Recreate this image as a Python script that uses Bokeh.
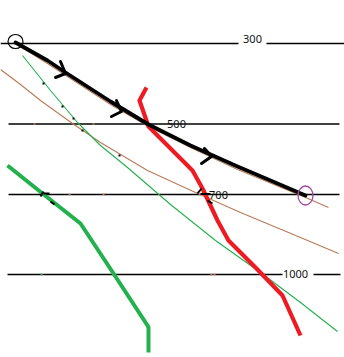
from bokeh.plotting import figure
from bokeh.models import Range1d
from bokeh.embed import file_html
from bokeh.resources import INLINE
from bokeh.core.properties import value

# ---- data (hand-drawn diagram, in picture coordinates) ----
isobar_levels = ["300", "500", "700", "1000"]
isobar_y = [43, 123.5, 194, 274]
isobar_x0 = [0, 8, 8, 7]
isobar_x1 = [344, 339, 339, 340]
# gaps cut into the line for a label (start, end) or None
isobar_gap = [(238, 266), None, None, (282, 313)]
label_x = [252, 176, 218, 295]
label_y = [38.5, 123.5, 194, 273.5]

path_x = [15, 47, 65, 110, 148, 190, 237, 270, 305]
path_y = [42, 60, 72, 101, 124, 145, 166, 180, 195]

arrow_tip = [(65, 73), (121, 111), (211, 156)]
arrow_arm1 = [(60, 61), (116, 100), (204, 148)]
arrow_arm2 = [(55, 77), (111, 116), (201, 163)]

temp_x = [146, 139, 148, 165, 182, 192, 202, 217, 228, 255, 282, 300]
temp_y = [87, 100, 126, 143, 160, 170, 188, 220, 240, 267, 295, 335]

dew_x = [7, 42, 80, 113, 147, 148, 148]
dew_y = [165, 193, 223, 273, 325, 327, 352]

moist_x = [22, 50, 77, 100, 127, 170, 215, 260, 300, 337]
moist_y = [55, 90, 122, 145, 167, 204, 240, 272, 302, 331]

dry1_x = [18, 47, 110, 148, 190, 237, 305, 328]
dry1_y = [45, 63, 104, 126, 147, 169, 197, 207]

dry2_x = [0, 20, 40, 72, 100, 147, 195, 240, 300, 338]
dry2_y = [69, 84, 100, 123, 142, 170, 192, 212, 237, 253]

start_circle = (15, 41, 15, 14)
end_ellipse = (305, 195, 15, 19)

# cross marks on the 700 line
mark_xs = [[40, 43], [43, 49], [50, 54], [197, 201], [200, 210], [207, 212]]
mark_ys = [[196, 191], [193, 193], [201, 204], [193, 188], [193.5, 193.5], [200, 203]]

dot_x = [43, 62, 73, 82, 119]
dot_y = [83, 106, 118, 130, 155]
tick_x = [34, 93, 69, 103, 211, 214]
tick_y = [123.5, 123.5, 194, 194, 274, 274]
gtick_x = [41]
gtick_y = [274]

RED = "#ed1c24"
GREEN = "#22b14c"
BROWN = "#b97a57"
PURPLE = "#a349a4"

p = figure(width=344, height=357, output_backend="svg", toolbar_location=None,
           x_range=Range1d(0, 344), y_range=Range1d(357, 0),
           min_border=0, min_border_left=0, min_border_right=0,
           min_border_top=0, min_border_bottom=0)
p.xaxis.visible = False
p.yaxis.visible = False
p.grid.visible = False
p.outline_line_color = None
p.background_fill_color = "white"
p.border_fill_color = "white"

# isobars
for y, x0, x1, gap in zip(isobar_y, isobar_x0, isobar_x1, isobar_gap):
    if gap is None:
        p.line([x0, x1], [y, y], line_color="black", line_width=1.6)
    else:
        p.line([x0, gap[0]], [y, y], line_color="black", line_width=1.6)
        p.line([gap[1], x1], [y, y], line_color="black", line_width=1.6)

# thin adiabats
p.line(dry2_x, dry2_y, line_color=BROWN, line_width=1.1)
p.line(dry1_x, dry1_y, line_color=BROWN, line_width=1.1)
p.line(moist_x, moist_y, line_color=GREEN, line_width=1.1)

# small marks
p.rect(tick_x, tick_y, width=2, height=1.6, fill_color=BROWN, line_color=None)
p.rect(gtick_x, gtick_y, width=2, height=1.6, fill_color=GREEN, line_color=None)
p.rect(dot_x, dot_y, width=2, height=2, fill_color="black", line_color=None)

# soundings
p.line(dew_x, dew_y, line_color=GREEN, line_width=4, line_join="round")
p.line(temp_x, temp_y, line_color=RED, line_width=4.2, line_join="round")

# parcel path with arrowheads
p.line(path_x, path_y, line_color="black", line_width=3.8, line_join="round", line_cap="round")
axs = []
ays = []
for t, a1, a2 in zip(arrow_tip, arrow_arm1, arrow_arm2):
    axs.append([a1[0], t[0], a2[0]])
    ays.append([a1[1], t[1], a2[1]])
p.multi_line(axs, ays, line_color="black", line_width=3, line_join="round", line_cap="round")
p.multi_line(mark_xs, mark_ys, line_color="black", line_width=2)

# circles
p.ellipse([start_circle[0]], [start_circle[1]], width=start_circle[2], height=start_circle[3],
          fill_color=None, line_color="black", line_width=1.2)
p.ellipse([end_ellipse[0]], [end_ellipse[1]], width=end_ellipse[2], height=end_ellipse[3],
          fill_color=None, line_color=PURPLE, line_width=1.3)

# labels
p.text(label_x, label_y, text=isobar_levels, text_align="center", text_baseline="middle",
       text_font=value("Noto Sans"), text_font_size="11px", text_color="#111111")

open("out.html", "w").write(file_html(p, INLINE))
